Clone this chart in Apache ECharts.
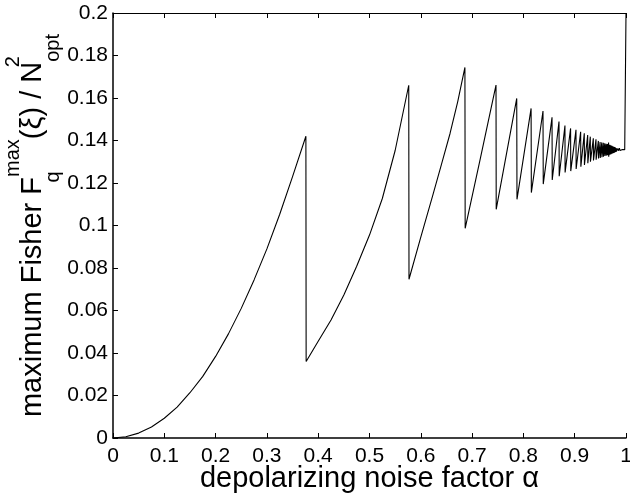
<!DOCTYPE html>
<html>
<head>
<meta charset="utf-8">
<script src="https://cdn.jsdelivr.net/npm/echarts@6/dist/echarts.min.js"></script>
<style>
  html, body { margin: 0; padding: 0; background: #fff; }
  #chart { width: 630px; height: 495px; }
</style>
</head>
<body>
<div id="chart"></div>
<script>
// tick labels
const xTickLabels = ['0', '0.1', '0.2', '0.3', '0.4', '0.5', '0.6', '0.7', '0.8', '0.9', '1'];
const yTickLabels = ['0', '0.02', '0.04', '0.06', '0.08', '0.1', '0.12', '0.14', '0.16', '0.18', '0.2'];

// [alpha, Fq/Nopt^2], branch by branch
const branch1 = [[0, 0], [0.025, 0.0006], [0.05, 0.0023], [0.075, 0.0052], [0.1, 0.0093], [0.125, 0.0145],
  [0.15, 0.0213], [0.175, 0.029], [0.2, 0.0384], [0.225, 0.049], [0.25, 0.061], [0.275, 0.0744],
  [0.3, 0.089], [0.325, 0.1053], [0.35, 0.123], [0.376, 0.142]];
const branch2 = [[0.3765, 0.036], [0.40, 0.0455], [0.425, 0.0555], [0.45, 0.0673], [0.475, 0.0808],
  [0.50, 0.0955], [0.525, 0.1127], [0.55, 0.1353], [0.5765, 0.166]];
const branch3 = [[0.577, 0.0747], [0.60, 0.0945], [0.624, 0.1148], [0.64, 0.1285], [0.657, 0.1433],
  [0.672, 0.1583], [0.686, 0.1744]];
const branch4 = [[0.6865, 0.0987], [0.716, 0.1315], [0.7466, 0.1661]];
// narrow teeth: low point after the drop, then next peak
const teeth = [
  [0.747, 0.1076], [0.787, 0.1598],
  [0.7875, 0.1123], [0.815, 0.1551],
  [0.8155, 0.1155], [0.8382, 0.1539],
  [0.8387, 0.1195], [0.8558, 0.1509],
  [0.8562, 0.1214], [0.8694, 0.1489],
  [0.8698, 0.1232], [0.881, 0.147],
  [0.8813, 0.125], [0.892, 0.1457],
  [0.8923, 0.1256], [0.9025, 0.145],
  [0.9028, 0.1266], [0.9116, 0.1441],
  [0.912, 0.1277], [0.9187, 0.1434],
  [0.919, 0.1285], [0.9253, 0.1426],
  [0.9256, 0.1293], [0.9304, 0.1418],
  [0.9307, 0.13], [0.9363, 0.141],
  [0.9366, 0.1306], [0.9415, 0.1406],
  [0.9418, 0.131], [0.9461, 0.1398],
  [0.9464, 0.1315]
];
// dense part close to alpha = 1
const tail = [
  [0.9495, 0.1393], [0.9498, 0.1318],
  [0.9528, 0.1391], [0.9531, 0.1321],
  [0.9558, 0.1389], [0.9561, 0.1324],
  [0.9586, 0.1387], [0.9589, 0.1327],
  [0.9612, 0.1385], [0.9615, 0.1329],
  [0.9637, 0.1383], [0.964, 0.1331],
  [0.966, 0.139], [0.9663, 0.1324],
  [0.9683, 0.138], [0.9686, 0.1333],
  [0.9704, 0.1378], [0.9707, 0.1336],
  [0.9724, 0.1375], [0.9727, 0.1338],
  [0.9743, 0.1373], [0.9746, 0.134],
  [0.9761, 0.1371], [0.9764, 0.1342],
  [0.9778, 0.1369], [0.978, 0.1344],
  [0.9794, 0.1367], [0.9796, 0.1346],
  [0.981, 0.1365], [0.9812, 0.1348],
  [0.984, 0.1362], [0.9855, 0.1352], [0.987, 0.1364], [0.9885, 0.1353],
  [0.99, 0.1361], [0.9915, 0.1354], [0.993, 0.1358], [0.995, 0.1353],
  [0.9975, 0.1357], [1.0, 0.1352], [1.0, 0.2]
];

const curve = branch1.concat(branch2, branch3, branch4, teeth, tail);

const FONT = 'Liberation Sans, Arial, Helvetica, sans-serif';

const chart = echarts.init(document.getElementById('chart'), null, { renderer: 'canvas' });

const tickStyle = { show: true, inside: true, length: 5, lineStyle: { color: '#000', width: 1 } };

chart.setOption({
  animation: false,
  backgroundColor: '#fff',
  grid: { left: 113, right: 4, top: 13, bottom: 57, containLabel: false, outerBoundsMode: 'none' },
  xAxis: [{
    type: 'value',
    min: 0, max: 1, interval: 0.1,
    name: 'depolarizing noise factor α',
    nameLocation: 'middle',
    nameGap: 26,
    nameMoveOverlap: false,
    nameTextStyle: { color: '#000', fontSize: 29, fontFamily: FONT },
    axisLine: { show: true, onZero: false, lineStyle: { color: '#000', width: 1.5 } },
    axisTick: tickStyle,
    axisLabel: {
      color: '#000', fontSize: 21, fontFamily: FONT, margin: 8,
      formatter: (v, i) => xTickLabels[i]
    },
    splitLine: { show: false }
  }, {
    type: 'value',
    position: 'top',
    min: 0, max: 1, interval: 0.1,
    axisLine: { show: true, onZero: false, lineStyle: { color: '#000', width: 1 } },
    axisTick: tickStyle,
    axisLabel: { show: false },
    splitLine: { show: false }
  }],
  yAxis: {
    type: 'value',
    min: 0, max: 0.2, interval: 0.02,
    name: '{m|maximum Fisher F}{sb|q}{sp|max}{m|(ξ) / N}{sp2|2}{sb2|opt}',
    nameLocation: 'middle',
    nameGap: 50,
    nameMoveOverlap: false,
    nameTextStyle: {
      color: '#000', fontFamily: FONT,
      rich: {
        m: { fontSize: 29, lineHeight: 60, fontFamily: FONT, color: '#000', verticalAlign: 'middle' },
        sp: { fontSize: 20, lineHeight: 19, fontFamily: FONT, color: '#000', verticalAlign: 'top' },
        sb: { fontSize: 20, lineHeight: 43, fontFamily: FONT, color: '#000', verticalAlign: 'bottom', width: 0 },
        sp2: { fontSize: 20, lineHeight: 19, fontFamily: FONT, color: '#000', verticalAlign: 'top', width: 0 },
        sb2: { fontSize: 20, lineHeight: 43, fontFamily: FONT, color: '#000', verticalAlign: 'bottom' }
      }
    },
    axisLine: { show: true, onZero: false, lineStyle: { color: '#000', width: 1.5 } },
    axisTick: tickStyle,
    axisLabel: {
      color: '#000', fontSize: 21, fontFamily: FONT, margin: 5,
      formatter: (v, i) => yTickLabels[i]
    },
    splitLine: { show: false }
  },
  series: [{
    type: 'line',
    data: curve,
    showSymbol: false,
    symbol: 'none',
    lineStyle: { color: '#000', width: 1.1 },
    clip: true
  }]
});
</script>
</body>
</html>
